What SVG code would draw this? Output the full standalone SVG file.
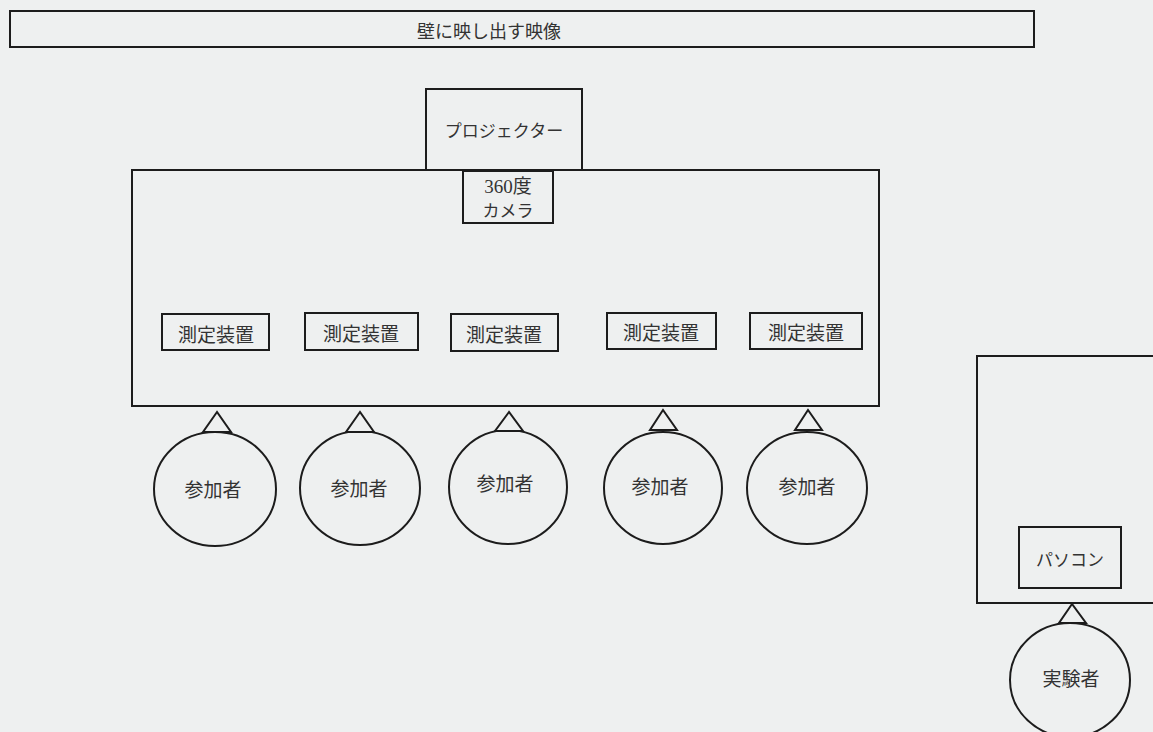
<svg xmlns="http://www.w3.org/2000/svg" width="1153" height="732" viewBox="0 0 1153 732">
<style>
.b{fill:none;stroke:#1c1c1c;stroke-width:2}
.f{fill:#eef0f0;stroke:#1c1c1c;stroke-width:2}
.t{font-family:"Noto Sans CJK JP","Noto Sans",sans-serif;fill:#333;text-anchor:middle;dominant-baseline:central}
.m{font-family:"Liberation Serif","Noto Sans CJK JP",serif;fill:#333;text-anchor:middle;dominant-baseline:central}
</style>
<rect width="1153" height="732" fill="#eef0f0"/>
<g id="wall">
<rect class="b" x="10" y="11" width="1024" height="36" stroke-width="2.5"/>
<text class="t" x="489" y="30" font-size="18">壁に映し出す映像</text>
</g>
<g id="projector">
<rect class="b" x="426" y="89" width="156" height="81"/>
<text class="m" x="504" y="131" font-size="17">プロジェクター</text>
</g>
<g id="room">
<rect class="b" x="132" y="170" width="747" height="236"/>
</g>
<g id="camera">
<rect class="b" x="463" y="171" width="90" height="52"/>
<text class="m" x="508" y="186" font-size="19">360度</text>
<text class="m" x="508" y="211" font-size="17">カメラ</text>
</g>
<g id="device1"><rect class="b" x="162" y="314" width="107" height="36"/><text class="t" x="216" y="333" font-size="19">測定装置</text></g>
<g id="device2"><rect class="b" x="305" y="313" width="113" height="37"/><text class="t" x="361" y="332" font-size="19">測定装置</text></g>
<g id="device3"><rect class="b" x="451" y="314" width="107" height="37"/><text class="t" x="504" y="333" font-size="19">測定装置</text></g>
<g id="device4"><rect class="b" x="607" y="313" width="109" height="36"/><text class="t" x="661" y="331" font-size="19">測定装置</text></g>
<g id="device5"><rect class="b" x="750" y="313" width="112" height="36"/><text class="t" x="806" y="331" font-size="19">測定装置</text></g>
<g id="participant1"><ellipse class="b" cx="215" cy="489" rx="61" ry="57"/><text class="t" x="213" y="488" font-size="19">参加者</text></g>
<g id="participant2"><ellipse class="b" cx="360" cy="488" rx="60" ry="57"/><text class="t" x="359" y="487" font-size="19">参加者</text></g>
<g id="participant3"><ellipse class="b" cx="508" cy="487" rx="59" ry="57"/><text class="t" x="505" y="482" font-size="19">参加者</text></g>
<g id="participant4"><ellipse class="b" cx="663" cy="488" rx="59" ry="56"/><text class="t" x="660" y="485" font-size="19">参加者</text></g>
<g id="participant5"><ellipse class="b" cx="807" cy="488" rx="60" ry="56"/><text class="t" x="807" y="485" font-size="19">参加者</text></g>
<g id="desk">
<path class="b" d="M1155 356 H977 V603 H1155"/>
</g>
<g id="pc"><rect class="b" x="1019" y="527" width="102" height="61"/><text class="t" x="1070" y="558" font-size="17">パソコン</text></g>
<g id="experimenter"><ellipse class="b" cx="1070" cy="680" rx="60" ry="57"/><text class="t" x="1071" y="677" font-size="19">実験者</text></g>
<g id="connectors">
<polygon class="f" points="217,412 203,432 231,432"/>
<polygon class="f" points="360,412 346,432 374,432"/>
<polygon class="f" points="509,412 495,431 523,431"/>
<polygon class="f" points="663,410 650,430 677,430"/>
<polygon class="f" points="808,410 795,430 822,430"/>
<polygon class="f" points="1072,604 1059,623 1086,623"/>
</g>
</svg>
